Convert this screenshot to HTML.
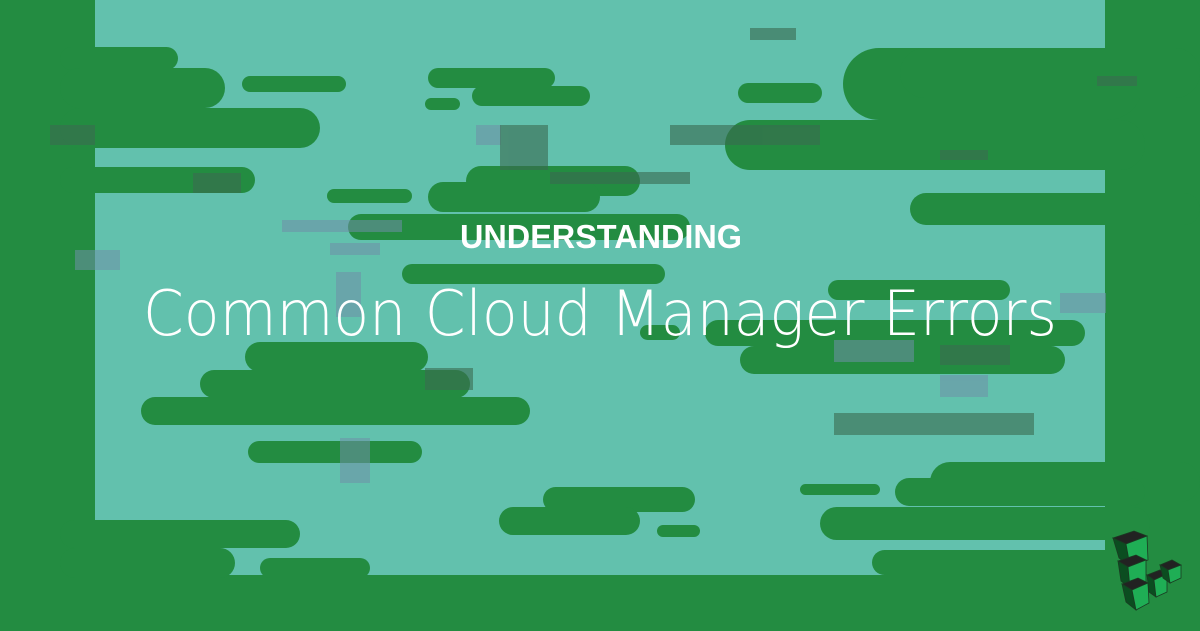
<!DOCTYPE html>
<html><head><meta charset="utf-8"><style>html,body{margin:0;padding:0;background:#62c1ad}svg{display:block}</style></head>
<body>
<svg width="1200" height="631" viewBox="0 0 1200 631" xmlns="http://www.w3.org/2000/svg">
<rect width="1200" height="631" fill="#62c1ad"/>
<g fill="#238c41">
<rect x="0" y="0" width="95" height="631"/>
<rect x="1105" y="0" width="95" height="631"/>
<rect x="0" y="575" width="1200" height="56"/>
<rect x="60" y="47" width="118" height="23" rx="11.5"/>
<rect x="60" y="68" width="165" height="40" rx="20"/>
<rect x="60" y="108" width="260" height="40" rx="20"/>
<rect x="60" y="167" width="195" height="26" rx="13"/>
<rect x="242" y="76" width="104" height="16" rx="8"/>
<rect x="428" y="68" width="127" height="20" rx="10"/>
<rect x="472" y="86" width="118" height="20" rx="10"/>
<rect x="425" y="98" width="35" height="12" rx="6"/>
<rect x="466" y="166" width="174" height="30" rx="15"/>
<rect x="428" y="182" width="172" height="30" rx="15"/>
<rect x="327" y="189" width="85" height="14" rx="7"/>
<rect x="348" y="214" width="342" height="26" rx="13"/>
<rect x="402" y="264" width="263" height="20" rx="10"/>
<rect x="738" y="83" width="84" height="20" rx="10"/>
<rect x="843" y="48" width="300" height="72" rx="36"/>
<rect x="900" y="48" width="300" height="50" rx="25"/>
<rect x="725" y="120" width="420" height="50" rx="25"/>
<rect x="910" y="193" width="290" height="32" rx="16"/>
<rect x="828" y="280" width="182" height="20" rx="10"/>
<rect x="705" y="320" width="380" height="26" rx="13"/>
<rect x="740" y="346" width="325" height="28" rx="14"/>
<rect x="640" y="325" width="40" height="15" rx="7.5"/>
<rect x="245" y="342" width="183" height="30" rx="15"/>
<rect x="200" y="370" width="270" height="28" rx="14"/>
<rect x="141" y="397" width="389" height="28" rx="14"/>
<rect x="248" y="441" width="174" height="22" rx="11"/>
<rect x="543" y="487" width="152" height="25" rx="12.5"/>
<rect x="499" y="507" width="141" height="28" rx="14"/>
<rect x="657" y="525" width="43" height="12" rx="6"/>
<rect x="800" y="484" width="80" height="11" rx="5.5"/>
<rect x="930" y="462" width="270" height="40" rx="20"/>
<rect x="895" y="478" width="250" height="28" rx="14"/>
<rect x="820" y="507" width="330" height="33" rx="16.5"/>
<rect x="872" y="550" width="270" height="25" rx="12.5"/>
<rect x="60" y="520" width="240" height="28" rx="14"/>
<rect x="60" y="548" width="175" height="30" rx="15"/>
<rect x="260" y="558" width="110" height="20" rx="10"/>
</g>
<g fill="#6f8fa8" opacity="0.55">
<rect x="282" y="220" width="120" height="12"/>
<rect x="330" y="243" width="50" height="12"/>
<rect x="336" y="272" width="25" height="45"/>
<rect x="476" y="125" width="25" height="20"/>
<rect x="834" y="340" width="80" height="22"/>
<rect x="940" y="375" width="48" height="22"/>
<rect x="1060" y="293" width="46" height="20"/>
<rect x="75" y="250" width="45" height="20"/>
<rect x="340" y="438" width="30" height="45"/>
</g>
<g fill="#3a6a50" opacity="0.6">
<rect x="670" y="125" width="150" height="20"/>
<rect x="500" y="125" width="48" height="45"/>
<rect x="550" y="172" width="140" height="12"/>
<rect x="750" y="28" width="46" height="12"/>
<rect x="50" y="125" width="45" height="20"/>
<rect x="193" y="173" width="48" height="20"/>
<rect x="425" y="368" width="48" height="22"/>
<rect x="834" y="413" width="200" height="22"/>
<rect x="940" y="345" width="70" height="20"/>
<rect x="940" y="150" width="48" height="10"/>
<rect x="1097" y="76" width="40" height="10"/>
</g>
<g stroke="#1a3a22" stroke-width="0.8">
<polygon points="1113,538 1134,531 1147,536 1126,544" fill="#222"/>
<polygon points="1113,538 1126,544 1130,566 1119,558" fill="#0b4d20"/>
<polygon points="1126,544 1147,536 1148,560 1130,566" fill="#1fae55"/>
<polygon points="1118,561 1136,555 1146,560 1128,567" fill="#222"/>
<polygon points="1118,561 1128,567 1130,588 1121,581" fill="#0b4d20"/>
<polygon points="1128,567 1146,560 1146,582 1130,588" fill="#1fae55"/>
<polygon points="1122,584 1138,578 1148,583 1132,590" fill="#222"/>
<polygon points="1122,584 1132,590 1136,610 1126,602" fill="#0b4d20"/>
<polygon points="1132,590 1148,583 1149,603 1136,610" fill="#1fae55"/>
<polygon points="1147,575 1160,570 1167,574 1154,580" fill="#222"/>
<polygon points="1147,575 1154,580 1156,597 1149,592" fill="#0b4d20"/>
<polygon points="1154,580 1167,574 1167,592 1156,597" fill="#1fae55"/>
<polygon points="1160,565 1172,560 1181,565 1168,570" fill="#222"/>
<polygon points="1160,565 1168,570 1170,583 1163,578" fill="#0b4d20"/>
<polygon points="1168,570 1181,565 1181,578 1170,583" fill="#1fae55"/>
</g>
<text x="460" y="248" textLength="282" lengthAdjust="spacingAndGlyphs" font-family="Liberation Sans, sans-serif" font-weight="bold" font-size="33" fill="#fff">UNDERSTANDING</text>
<text x="143" y="335" textLength="914" lengthAdjust="spacingAndGlyphs" font-family="DejaVu Sans, Liberation Sans, sans-serif" font-weight="200" font-size="62" fill="#fff">Common Cloud Manager Errors</text>
</svg>
</body></html>
